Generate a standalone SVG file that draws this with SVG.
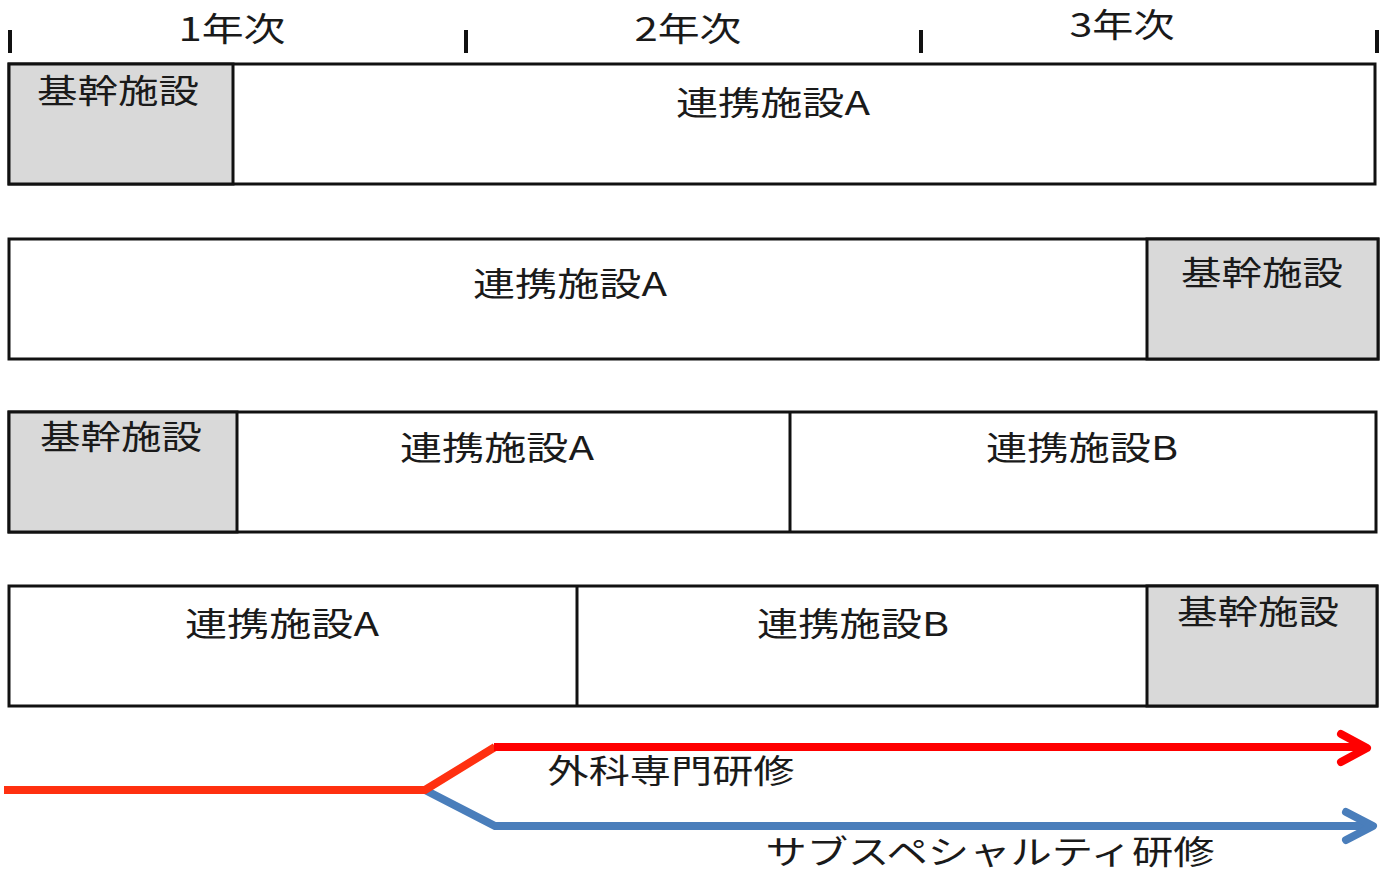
<svg xmlns="http://www.w3.org/2000/svg" width="1384" height="875" viewBox="0 0 1384 875">
<style>
.box{fill:#fff;stroke:#111;stroke-width:3}
.core{fill:#d9d9d9;stroke:#111;stroke-width:3}
.t{font-family:"Noto Sans CJK JP","Noto Sans",sans-serif;font-size:33px;fill:#1a1a1a;text-anchor:middle}
.tick{stroke:#111;stroke-width:4}
</style>
<rect width="1384" height="875" fill="#fff"/>
<g id="timeline">
<line class="tick" x1="10" y1="30" x2="10" y2="53"/>
<line class="tick" x1="466" y1="30" x2="466" y2="53"/>
<line class="tick" x1="921" y1="30" x2="921" y2="53"/>
<line class="tick" x1="1377" y1="30" x2="1377" y2="53"/>
<text class="t" x="232" y="41" textLength="107" lengthAdjust="spacingAndGlyphs">1年次</text>
<text class="t" x="688" y="41" textLength="107" lengthAdjust="spacingAndGlyphs">2年次</text>
<text class="t" x="1122" y="37" textLength="105" lengthAdjust="spacingAndGlyphs">3年次</text>
</g>
<g id="row1">
<rect class="box" x="9" y="64" width="1366" height="120"/>
<rect class="core" x="9" y="64" width="224" height="120"/>
<text class="t" x="118" y="103" textLength="162" lengthAdjust="spacingAndGlyphs">基幹施設</text>
<text class="t" x="773" y="115" textLength="194" lengthAdjust="spacingAndGlyphs">連携施設A</text>
</g>
<g id="row2">
<rect class="box" x="9" y="239" width="1369" height="120"/>
<rect class="core" x="1147" y="239" width="231" height="120"/>
<text class="t" x="570" y="296" textLength="194" lengthAdjust="spacingAndGlyphs">連携施設A</text>
<text class="t" x="1262" y="285" textLength="162" lengthAdjust="spacingAndGlyphs">基幹施設</text>
</g>
<g id="row3">
<rect class="box" x="9" y="412" width="1367" height="120"/>
<rect class="core" x="9" y="412" width="228" height="120"/>
<line x1="790" y1="412" x2="790" y2="532" stroke="#111" stroke-width="3"/>
<text class="t" x="121" y="449" textLength="162" lengthAdjust="spacingAndGlyphs">基幹施設</text>
<text class="t" x="497" y="460" textLength="194" lengthAdjust="spacingAndGlyphs">連携施設A</text>
<text class="t" x="1082" y="460" textLength="192" lengthAdjust="spacingAndGlyphs">連携施設B</text>
</g>
<g id="row4">
<rect class="box" x="9" y="586" width="1368" height="120"/>
<line x1="577" y1="586" x2="577" y2="706" stroke="#111" stroke-width="3"/>
<rect class="core" x="1147" y="586" width="230" height="120"/>
<text class="t" x="282" y="636" textLength="194" lengthAdjust="spacingAndGlyphs">連携施設A</text>
<text class="t" x="853" y="636" textLength="192" lengthAdjust="spacingAndGlyphs">連携施設B</text>
<text class="t" x="1258" y="624" textLength="162" lengthAdjust="spacingAndGlyphs">基幹施設</text>
</g>
<g id="connectors" fill="none" stroke-width="8">
<polyline points="425,790 495,826 1372,826" stroke="#4a7ebb"/>
<polyline points="1346,812 1373,826 1346,840" stroke="#4a7ebb" stroke-linecap="round" stroke-linejoin="round"/>
<polyline points="4,790 425,790 495,747" stroke="#ff3010"/>
<line x1="494" y1="747" x2="1366" y2="747" stroke="#ff0000"/>
<polyline points="1341,734 1367,748 1341,762" stroke="#ff0000" stroke-linecap="round" stroke-linejoin="round"/>
</g>
<g id="labels">
<text class="t" x="671" y="783" textLength="247" lengthAdjust="spacingAndGlyphs">外科専門研修</text>
<text class="t" x="990" y="864" font-size="32" textLength="449" lengthAdjust="spacingAndGlyphs">サブスペシャルティ研修</text>
</g>
</svg>
